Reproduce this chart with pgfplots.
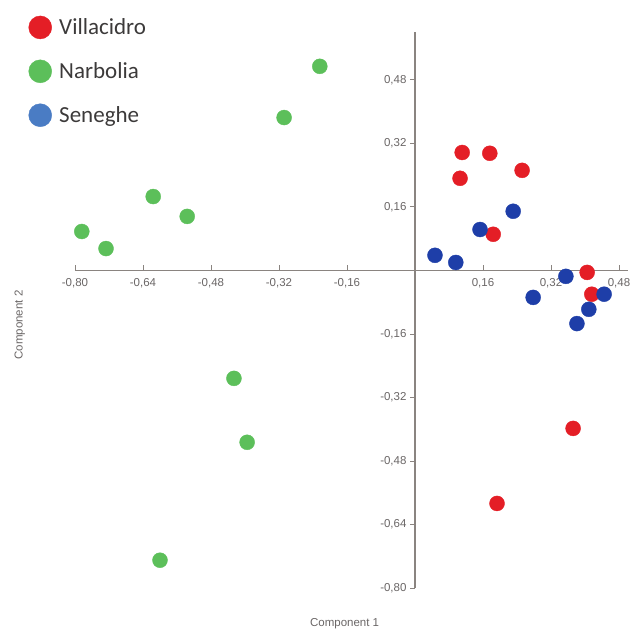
\documentclass[border=0pt]{standalone}
\usepackage{fontspec}
\setmainfont{Liberation Sans}
\newfontfamily\legfont{Carlito}
\usepackage{pgfplots}
\pgfplotsset{compat=1.18}
\definecolor{vred}{HTML}{E41E26}
\definecolor{ngreen}{HTML}{5CBF5A}
\definecolor{sblue}{HTML}{1E3EA8}
\definecolor{lblue}{HTML}{4A7CC4}
\definecolor{axgray}{HTML}{8A8480}
\definecolor{tgray}{HTML}{6A6666}
\definecolor{ltext}{HTML}{3C3A3A}
\begin{document}
\begin{tikzpicture}[x=1pt,y=1pt]
\useasboundingbox (0,0) rectangle (633,630);
\begin{axis}[
  at={(75pt,42pt)}, anchor=south west,
  scale only axis, width=552.5pt, height=555.8pt,
  xmin=-0.8, xmax=0.5, ymin=-0.8, ymax=0.6,
  clip=false,
  axis lines=middle,
  axis line style={-, draw=axgray, line width=1.1pt},
  every tick/.style={draw=axgray, line width=0.8pt},
  major tick length=5pt,
  xtick align=inside, ytick align=outside,
  xtick={-0.80,-0.64,-0.48,-0.32,-0.16,0.16,0.32,0.48},
  ytick={-0.80,-0.64,-0.48,-0.32,-0.16,0.16,0.32,0.48},
  tick label style={font=\fontsize{11.5}{13}\selectfont, text=tgray},
  xticklabel style={yshift=-5pt},
  /pgf/number format/.cd, fixed, fixed zerofill, precision=2, use comma, assume math mode=true,
  /pgfplots/.cd,
  xlabel={Component 1}, ylabel={Component 2},
  xlabel style={at={(axis description cs:0.488,-0.065)}, anchor=center, font=\fontsize{11.5}{13}\selectfont, text=tgray},
  ylabel style={at={(axis description cs:-0.1,0.473)}, anchor=center, rotate=90, font=\fontsize{11.5}{13}\selectfont, text=tgray},
  legend style={at={(axis description cs:-0.085,1.03)}, anchor=north west, draw=none, fill=none,
    font=\legfont\fontsize{23}{27}\selectfont, text=ltext, row sep=20.5pt, inner sep=0pt},
  legend cell align=left,
]
\addplot[only marks, mark=*, mark size=7.5pt, mark options={fill=vred, draw=vred},
  legend image code/.code={\fill[vred] (12pt,0pt) circle (11.5pt); \path[draw=none,fill=none] (0pt,-1pt) rectangle (29pt,1pt);}]
  coordinates {(0.111,0.297) (0.176,0.295) (0.106,0.232) (0.252,0.252) (0.184,0.091)
    (0.405,-0.005) (0.416,-0.060) (0.372,-0.398) (0.193,-0.587)};
\addlegendentry{Villacidro}
\addplot[only marks, mark=*, mark size=7.5pt, mark options={fill=ngreen, draw=ngreen},
  legend image code/.code={\fill[ngreen] (12pt,0pt) circle (11.5pt); \path[draw=none,fill=none] (0pt,-1pt) rectangle (29pt,1pt);}]
  coordinates {(-0.224,0.514) (-0.308,0.385) (-0.616,0.186) (-0.536,0.136) (-0.784,0.098)
    (-0.727,0.055) (-0.426,-0.272) (-0.395,-0.433) (-0.600,-0.730)};
\addlegendentry{Narbolia}
\addplot[only marks, mark=*, mark size=7.5pt, mark options={fill=sblue, draw=sblue},
  legend image code/.code={\fill[lblue] (12pt,0pt) circle (11.5pt); \path[draw=none,fill=none] (0pt,-1pt) rectangle (29pt,1pt);}]
  coordinates {(0.047,0.038) (0.096,0.020) (0.153,0.103) (0.231,0.149) (0.278,-0.068)
    (0.355,-0.015) (0.445,-0.060) (0.409,-0.098) (0.381,-0.134)};
\addlegendentry{Seneghe}
\end{axis}
\end{tikzpicture}
\end{document}
